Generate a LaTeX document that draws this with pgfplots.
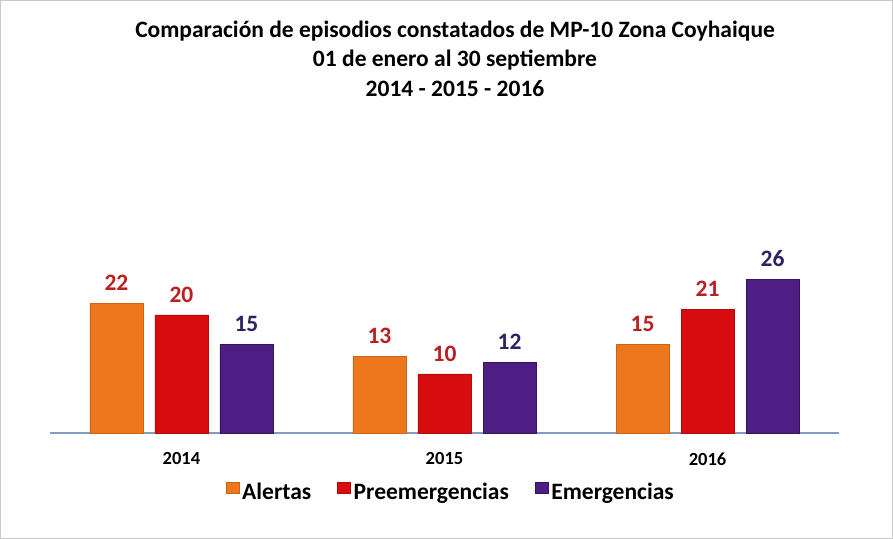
\documentclass[border=0pt]{standalone}
\usepackage{pgfplots}
\pgfplotsset{compat=1.18}
\usepackage{fontspec}
\setmainfont{Carlito}

\definecolor{alerta}{RGB}{238,118,28}
\definecolor{preem}{RGB}{214,12,14}
\definecolor{emerg}{RGB}{78,30,132}
\definecolor{lblred}{RGB}{186,32,32}
\definecolor{lblpurple}{RGB}{42,36,100}
\definecolor{axisblue}{RGB}{128,156,190}
\definecolor{framegray}{RGB}{200,200,200}

\begin{document}
\begin{tikzpicture}
% marco del grafico
\draw[framegray, line width=0.8pt] (0.5pt,0.5pt) rectangle (892.5pt,538.5pt);

% titulo
\node[font=\fontsize{23.5}{26}\selectfont\bfseries] at (455pt,508pt) {Comparación de episodios constatados de MP-10 Zona Coyhaique};
\node[font=\fontsize{23.5}{26}\selectfont\bfseries] at (455pt,479pt) {01 de enero al 30 septiembre};
\node[font=\fontsize{23.5}{26}\selectfont\bfseries] at (455pt,450pt) {2014 - 2015 - 2016};

\begin{axis}[
  at={(50pt,106pt)}, anchor=south west,
  scale only axis,
  width=789pt, height=177pt,
  xmin=-0.5, xmax=2.5,
  ymin=0, ymax=30,
  ybar=12pt, bar width=53pt,
  axis x line*=bottom,
  axis y line=none,
  x axis line style={draw=axisblue, line width=1.3pt, -},
  xtick={0,1,2},
  xticklabels={2014,2015,2016},
  xtick style={draw=none},
  xticklabel style={font=\fontsize{18.5}{20}\selectfont\bfseries, yshift=-12pt},
  /pgf/number format/assume math mode=true,
  nodes near coords,
  nodes near coords style={font=\fontsize{23.5}{25}\selectfont\bfseries, yshift=9pt},
  legend columns=3,
  legend style={at={(0.508,-0.335)}, anchor=center, draw=none,
    font=\fontsize{23.5}{25}\selectfont\bfseries, column sep=1pt,
    /tikz/every even column/.append style={column sep=24pt}},
  legend image code/.code={\fill[#1] (0pt,-1pt) rectangle (13pt,10pt);},
]
\addplot[fill=alerta, draw=alerta!85!black,
  every node near coord/.append style={text=lblred}]
  coordinates {(0,22) (1,13) (2,15)};
\addlegendentry{Alertas}
\addplot[fill=preem, draw=preem!85!black,
  every node near coord/.append style={text=lblred}]
  coordinates {(0,20) (1,10) (2,21)};
\addlegendentry{Preemergencias}
\addplot[fill=emerg, draw=emerg!70!black,
  every node near coord/.append style={text=lblpurple}]
  coordinates {(0,15) (1,12) (2,26)};
\addlegendentry{Emergencias}
\end{axis}
\end{tikzpicture}
\end{document}
